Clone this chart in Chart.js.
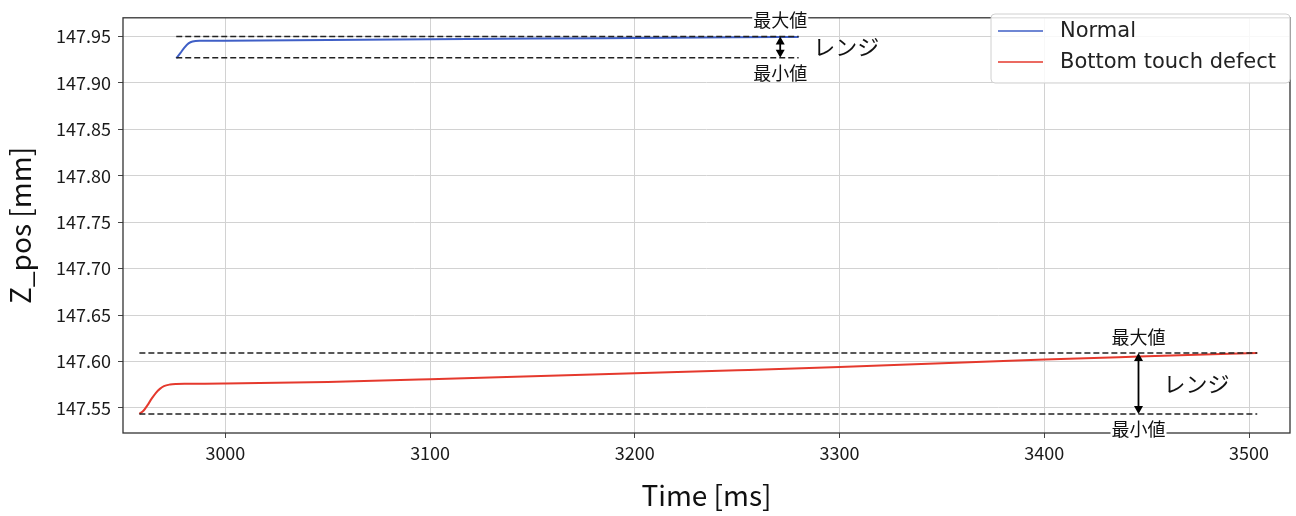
<!DOCTYPE html>
<html>
<head>
<meta charset="utf-8">
<script src="https://cdn.jsdelivr.net/npm/chart.js@4.4.0/dist/chart.umd.min.js"></script>
<style>
  body { margin: 0; background: #fff; }
</style>
</head>
<body>
<canvas id="zposChart" width="1296" height="516"></canvas>
<script>
// values
const timeNormal = [2976, 2978, 2980, 2982, 2984, 2988, 3000, 3050, 3100, 3150, 3200, 3250, 3280]
const zNormal = [147.9265, 147.9320, 147.9380, 147.9425, 147.9445, 147.9452, 147.9454, 147.9460, 147.9468, 147.9476, 147.9483, 147.9490, 147.9494]

const timeDefect = [2958, 2960, 2962, 2964, 2966, 2968, 2970, 2973, 2976, 2980, 2990, 3000, 3050, 3100, 3150, 3200, 3250, 3300, 3350, 3400, 3450, 3504]
const zDefect = [147.5436, 147.5470, 147.5530, 147.5600, 147.5660, 147.5705, 147.5735, 147.5752, 147.5758, 147.5760, 147.5760, 147.5762, 147.5780, 147.5808, 147.5840, 147.5872, 147.5905, 147.5940, 147.5980, 147.6020, 147.6055, 147.6092]

const seriesLabels = ['Normal', 'Bottom touch defect']
const xTicks = [3000, 3100, 3200, 3300, 3400, 3500]
const yTicks = [147.55, 147.60, 147.65, 147.70, 147.75, 147.80, 147.85, 147.90, 147.95]

// range markers: [start time, end time], [min, max], arrow time
const normalSpan = [2976, 3280]
const normalRange = [147.927, 147.950]
const normalArrowTime = 3271
const defectSpan = [2958, 3504]
const defectRange = [147.5435, 147.6092]
const defectArrowTime = 3446

const blue = '#3f5fc6'
const red = '#e5392d'
const jpFont = "'Noto Sans CJK JP', sans-serif"

function toPoints(xs, ys) {
    return xs.map((x, i) => ({ x: x, y: ys[i] }))
}

function dashed(span, y) {
    return {
        label: '',
        data: toPoints(span, [y, y]),
        borderColor: '#222',
        borderWidth: 1.5,
        borderDash: [6, 3],
        pointRadius: 0,
        tension: 0
    }
}

const rangePlugin = {
    id: 'rangeMarks',
    afterDatasetsDraw(chart) {
        const { ctx, chartArea, scales: { x, y } } = chart
        ctx.save()
        // frame around plot area
        ctx.strokeStyle = '#333'
        ctx.lineWidth = 1.3
        ctx.strokeRect(chartArea.left, chartArea.top, chartArea.right - chartArea.left, chartArea.bottom - chartArea.top)

        const marks = [
            { t: normalArrowTime, r: normalRange, rangeDx: 33 },
            { t: defectArrowTime, r: defectRange, rangeDx: 25 }
        ]
        marks.forEach(m => {
            const px = x.getPixelForValue(m.t)
            const yTop = y.getPixelForValue(m.r[1])
            const yBot = y.getPixelForValue(m.r[0])
            ctx.strokeStyle = '#000'
            ctx.fillStyle = '#000'
            ctx.lineWidth = 1.8
            ctx.beginPath()
            ctx.moveTo(px, yTop + 6)
            ctx.lineTo(px, yBot - 6)
            ctx.stroke()
            // arrow heads
            ctx.beginPath()
            ctx.moveTo(px, yTop)
            ctx.lineTo(px - 4.5, yTop + 8)
            ctx.lineTo(px + 4.5, yTop + 8)
            ctx.closePath()
            ctx.fill()
            ctx.beginPath()
            ctx.moveTo(px, yBot)
            ctx.lineTo(px - 4.5, yBot - 8)
            ctx.lineTo(px + 4.5, yBot - 8)
            ctx.closePath()
            ctx.fill()

            ctx.font = '18px ' + jpFont
            ctx.textAlign = 'center'
            ctx.textBaseline = 'middle'
            const labels = [['最大値', yTop - 16], ['最小値', yBot + 15]]
            labels.forEach(([txt, ty]) => {
                const w = ctx.measureText(txt).width
                ctx.fillStyle = '#fff'
                ctx.fillRect(px - w / 2 - 1, ty - 8, w + 2, 16)
                ctx.fillStyle = '#111'
                ctx.fillText(txt, px, ty)
            })
            ctx.font = '22px ' + jpFont
            ctx.textAlign = 'left'
            ctx.fillText('レンジ', px + m.rangeDx, (yTop + yBot) / 2)
        })

        // legend box
        const lx = 991, ly = 14, lw = 299, lh = 69
        ctx.fillStyle = 'rgba(255,255,255,0.85)'
        ctx.strokeStyle = '#d0d0d0'
        ctx.lineWidth = 1
        ctx.beginPath()
        ctx.roundRect(lx, ly, lw, lh, 4)
        ctx.fill()
        ctx.stroke()
        const rows = [[seriesLabels[0], blue, 31], [seriesLabels[1], red, 62]]
        ctx.font = '21px "DejaVu Sans"'
        ctx.textAlign = 'left'
        ctx.textBaseline = 'middle'
        rows.forEach(([txt, col, ry]) => {
            ctx.strokeStyle = col
            ctx.lineWidth = 1.5
            ctx.beginPath()
            ctx.moveTo(998, ry)
            ctx.lineTo(1043, ry)
            ctx.stroke()
            ctx.fillStyle = '#222'
            ctx.fillText(txt, 1060, ry + 1)
        })
        ctx.restore()
    }
}

const ctxZ = document.getElementById('zposChart').getContext('2d')

const zposChart = new Chart(ctxZ, {
    type: 'line',
    data: {
        datasets: [
            dashed(normalSpan, normalRange[1]),
            dashed(normalSpan, normalRange[0]),
            dashed(defectSpan, defectRange[1]),
            dashed(defectSpan, defectRange[0]),
            {
                label: seriesLabels[0],
                data: toPoints(timeNormal, zNormal),
                borderColor: blue,
                borderWidth: 2,
                pointRadius: 0,
                cubicInterpolationMode: 'monotone'
            },
            {
                label: seriesLabels[1],
                data: toPoints(timeDefect, zDefect),
                borderColor: red,
                borderWidth: 2,
                pointRadius: 0,
                cubicInterpolationMode: 'monotone'
            }
        ]
    },
    options: {
        responsive: false,
        animation: false,
        devicePixelRatio: 1,
        layout: { padding: { top: 13, right: 6, left: 0, bottom: 0 } },
        plugins: {
            legend: { display: false },
            tooltip: { enabled: false }
        },
        scales: {
            x: {
                type: 'linear',
                min: 2950,
                max: 3520,
                afterBuildTicks: s => { s.ticks = xTicks.map(v => ({ value: v })) },
                afterFit: s => { s.height = 83 },
                border: { display: false },
                grid: { color: '#d2d2d2', tickColor: '#444', tickLength: 5 },
                ticks: {
                    color: '#1a1a1a',
                    padding: 4,
                    maxRotation: 0,
                    font: { family: jpFont, size: 18 },
                    callback: v => String(v)
                },
                title: {
                    display: true,
                    text: 'Time [ms]',
                    color: '#111',
                    font: { family: jpFont, size: 28 },
                    padding: { top: 0, bottom: 4 }
                }
            },
            y: {
                type: 'linear',
                min: 147.523,
                max: 147.970,
                afterBuildTicks: s => { s.ticks = yTicks.map(v => ({ value: v })) },
                afterFit: s => { s.width = 123 },
                border: { display: false },
                grid: { color: '#d2d2d2', tickColor: '#444', tickLength: 5 },
                ticks: {
                    color: '#1a1a1a',
                    padding: 7,
                    font: { family: jpFont, size: 18 },
                    callback: v => v.toFixed(2)
                },
                title: {
                    display: true,
                    text: 'Z_pos [mm]',
                    color: '#111',
                    font: { family: jpFont, size: 28 },
                    padding: { top: 4, bottom: 0 }
                }
            }
        }
    },
    plugins: [rangePlugin]
})
</script>
</body>
</html>
